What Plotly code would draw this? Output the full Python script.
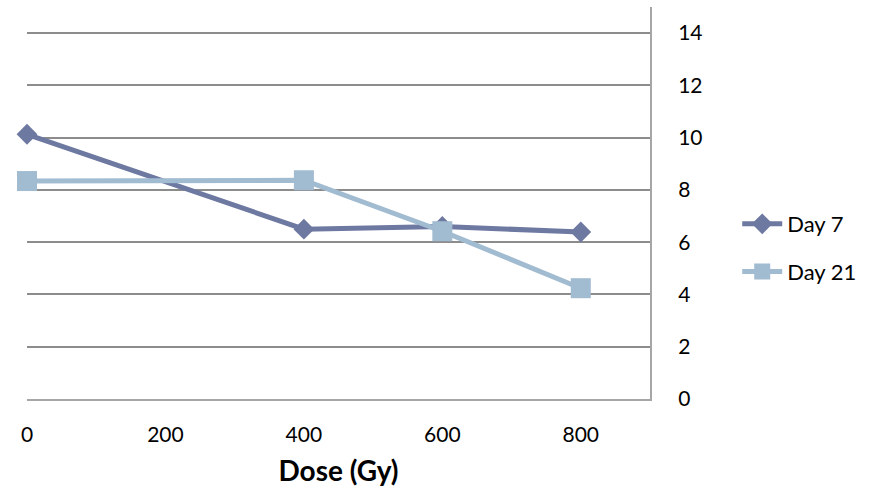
import plotly.graph_objects as go

dose = [0, 400, 600, 800]
day7 = [10.13, 6.5, 6.6, 6.39]
day21 = [8.34, 8.37, 6.42, 4.24]
x_ticks = [0, 200, 400, 600, 800]
y_ticks = [0, 2, 4, 6, 8, 10, 12, 14]

FONT = "Lato"
fig = go.Figure()
fig.add_trace(go.Scatter(
    x=dose, y=day7, name="Day 7", mode="lines+markers", legendgroup="a",
    line=dict(color="#6E79A1", width=5),
    marker=dict(symbol="diamond", size=16, color="#6E79A1"),
    cliponaxis=False,
))
fig.add_trace(go.Scatter(
    x=dose, y=day21, name="Day 21", mode="lines+markers", legendgroup="b",
    line=dict(color="#A1BBD1", width=5),
    marker=dict(symbol="square", size=20, color="#A1BBD1"),
    cliponaxis=False,
))

fig.update_layout(
    width=878, height=489,
    margin=dict(l=27, r=228, t=7, b=90),
    paper_bgcolor="white", plot_bgcolor="white",
    font=dict(family=FONT, size=21, color="black"),
    showlegend=True,
    legend=dict(x=1.14, y=0.50, xanchor="left", yanchor="top",
                tracegroupgap=16, font=dict(size=22), itemwidth=40,
                bgcolor="rgba(0,0,0,0)"),
    xaxis=dict(range=[0, 900], tickvals=x_ticks, showgrid=False,
               showline=True, linecolor="#A6A6A6", linewidth=2,
               zeroline=False, ticks="", ticklabelstandoff=16,
               title=dict(text="<b>Dose (Gy)</b>", font=dict(size=28), standoff=16)),
    yaxis=dict(range=[0, 15], tickvals=y_ticks, side="right",
               showgrid=True, gridcolor="#8C8C8C", gridwidth=2,
               showline=True, linecolor="#A6A6A6", linewidth=2,
               zeroline=False, ticks="", ticklabelstandoff=22),
)
fig.write_html("out.html")
